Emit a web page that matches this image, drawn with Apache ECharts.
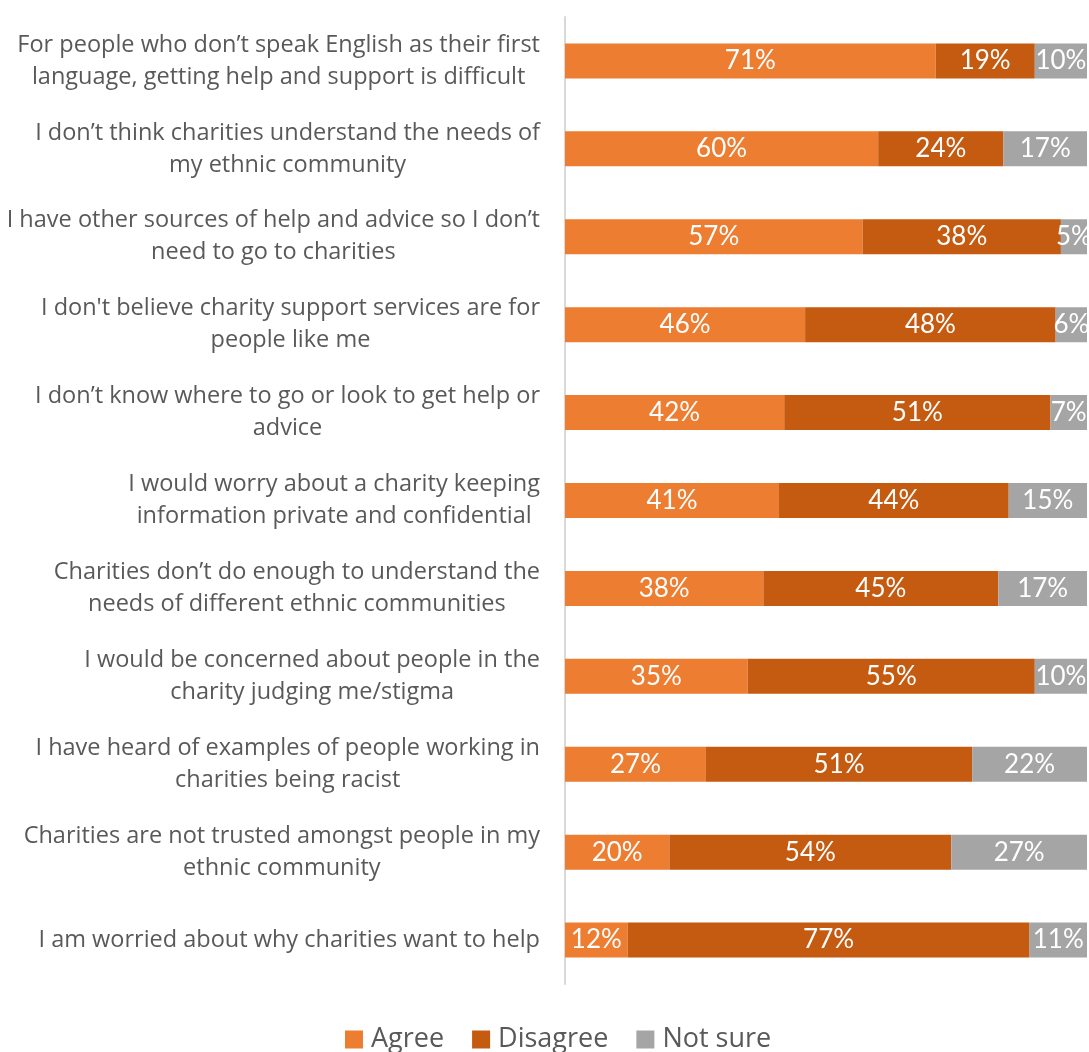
<!DOCTYPE html>
<html>
<head>
<meta charset="utf-8">
<script src="https://cdn.jsdelivr.net/npm/echarts@6/dist/echarts.min.js"></script>
<style>
  html, body { margin: 0; padding: 0; background: #fff; }
  #chart { width: 1089px; height: 1052px; }
</style>
</head>
<body>
<div id="chart"></div>
<script>
// Survey statements (top to bottom)
const statements = [
  "For people who don’t speak English as their first\nlanguage, getting help and support is difficult",
  "I don’t think charities understand the needs of\nmy ethnic community",
  "I have other sources of help and advice so I don’t\nneed to go to charities",
  "I don't believe charity support services are for\npeople like me",
  "I don’t know where to go or look to get help or\nadvice",
  "I would worry about a charity keeping\ninformation private and confidential",
  "Charities don’t do enough to understand the\nneeds of different ethnic communities",
  "I would be concerned about people in the\ncharity judging me/stigma",
  "I have heard of examples of people working in\ncharities being racist",
  "Charities are not trusted amongst people in my\nethnic community",
  "I am worried about why charities want to help"
];

// Response shares, percent
const agree    = [71, 60, 57, 46, 42, 41, 38, 35, 27, 20, 12];
const disagree = [19, 24, 38, 48, 51, 44, 45, 55, 51, 54, 77];
const notSure  = [10, 17,  5,  6,  7, 15, 17, 10, 22, 27, 11];

const seriesNames = ["Agree", "Disagree", "Not sure"];
const seriesColors = ["#ED7D31", "#C55A11", "#A5A5A5"];
const seriesValues = [agree, disagree, notSure];

const TEXT_FONT = "'Open Sans', sans-serif";
const NUM_FONT = "Lato, 'Open Sans', sans-serif";

const chart = echarts.init(document.getElementById("chart"));

const series = seriesNames.map((name, i) => ({
  name,
  type: "bar",
  stack: "total",
  data: seriesValues[i],
  barWidth: 35,
  clip: true,
  itemStyle: { color: seriesColors[i] },
  label: {
    show: true,
    position: "inside",
    formatter: "{c}%",
    color: "#fff",
    fontSize: 26,
    fontFamily: NUM_FONT
  }
}));

chart.setOption({
  animation: false,
  textStyle: { fontFamily: TEXT_FONT },
  legend: {
    data: seriesNames,
    left: 340,
    top: 1021,
    itemWidth: 18,
    itemHeight: 18,
    itemGap: 28,
    icon: "rect",
    textStyle: { fontSize: 27, color: "#595959", fontFamily: TEXT_FONT, padding: [0, 0, 0, 3] }
  },
  grid: { left: 565, right: 2, top: 17, bottom: 68, containLabel: false },
  xAxis: {
    type: "value",
    min: 0,
    max: 100,
    show: false
  },
  yAxis: {
    type: "category",
    inverse: true,
    data: statements,
    axisLine: { show: true, lineStyle: { color: "#d9d9d9", width: 2 } },
    axisTick: { show: false },
    axisLabel: {
      margin: 25,
      formatter: v => v.split("\n").map(s => "{c|" + s + "}").join("\n"),
      rich: {
        c: {
          align: "center",
          fontSize: 23.5,
          lineHeight: 32,
          color: "#595959",
          fontFamily: TEXT_FONT
        }
      }
    }
  },
  series
});
</script>
</body>
</html>
